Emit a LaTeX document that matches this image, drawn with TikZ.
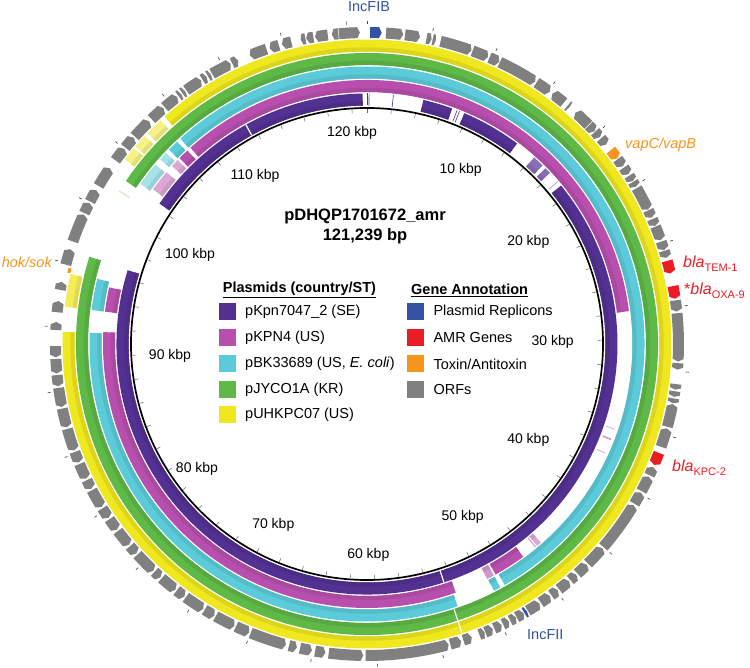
\documentclass[tikz,border=0pt]{standalone}
\usepackage{fontspec}
\setmainfont{Liberation Sans}
\definecolor{cpu}{RGB}{83,49,146}
\definecolor{cma}{RGB}{184,79,174}
\definecolor{ccy}{RGB}{92,203,217}
\definecolor{cgr}{RGB}{94,185,71}
\definecolor{cye}{RGB}{240,232,30}
\definecolor{cgy}{RGB}{128,128,128}
\definecolor{cbl}{RGB}{52,82,164}
\definecolor{cre}{RGB}{236,28,36}
\definecolor{cor}{RGB}{247,148,29}
% annular sector: color, r1, r2, k1, k2 (kbp)
\newcommand{\rseg}[5]{\fill[#1] ({kang(#4)}:#2pt) arc[start angle={kang(#4)}, end angle={kang(#5)}, radius=#2pt] -- ({kang(#5)}:#3pt) arc[start angle={kang(#5)}, end angle={kang(#4)}, radius=#3pt] -- cycle;}
\newcommand{\ringseg}[5]{\rseg{#1}{#2}{#3}{#4}{#5}\pgfmathsetmacro\rsmid{#2+0.35*(#3-#2)}\rseg{#1!92!black}{#2}{\rsmid}{#4}{#5}}
% radial line: color, r1, r2, k, width
\newcommand{\rl}[5]{\draw[#1,line width=#5pt] ({kang(#4)}:#2pt) -- ({kang(#4)}:#3pt);}
% ORF arrow: color, k1, k2 (direction k1->k2)
\newcommand{\orf}[3]{\pgfmathsetmacro\tipk{#3-sign(#3-#2)*min(0.17,abs(#3-#2)*0.35)}\fill[#1] ({kang(#2)}:306pt) arc[start angle={kang(#2)}, end angle={kang(\tipk)}, radius=306pt] -- ({kang(#3)}:311.5pt) -- ({kang(\tipk)}:317pt) arc[start angle={kang(\tipk)}, end angle={kang(#2)}, radius=317pt] -- cycle;}
\begin{document}
\begin{tikzpicture}[x=1pt,y=1pt,
  declare function={kang(\k)=90-2.969342*\k;},
  kbp/.style={font=\fontsize{14}{16}\selectfont, inner sep=0pt},
  legt/.style={font=\fontsize{14.5}{16}\selectfont, inner sep=0pt, anchor=west},
  legh/.style={font=\fontsize{14.5}{16}\selectfont\bfseries, inner sep=0pt, anchor=west},
  legsq/.style={minimum size=17pt, inner sep=0pt},
  glab/.style={font=\fontsize{14.5}{16}\selectfont, inner sep=0pt}]
\useasboundingbox (0,0) rectangle (750,668);
\begin{scope}[shift={(367,324)}]
% ---------- purple ring
\foreach \a/\b in {4.38/6.7, 7.7/12.4, 17.1/96.7, 102.4/120.9} {\ringseg{cpu}{238.5}{250.5}{\a}{\b}}
\ringseg{cpu!70!white}{238.5}{250.5}{14.1}{15.0}
\ringseg{cpu!70!white}{238.5}{250.5}{15.3}{15.8}
\foreach \k in {0.0,0.16,2.04,7.1,7.3} {\rl{cpu}{238.5}{250.5}{\k}{0.6}}
\rl{cpu!45!white}{238.5}{250.5}{16.7}{0.8}
\rl{white}{238.5}{250.5}{54.6}{1.2}
\rl{white}{238.5}{250.5}{111.5}{1.2}
% ---------- magenta ring
\foreach \a/\b in {107.1/149.14, 54.0/91.8, 48.4/50.8, 93.3/95.1, 106.0/106.8} {\ringseg{cma}{252}{264}{\a}{\b}}
\ringseg{cma!60!white}{252}{264}{50.95}{51.5}
\ringseg{cma!50!white}{252}{264}{103.0}{104.6}
\ringseg{cma!50!white}{252}{264}{105.2}{105.8}
\ringseg{cma!50!white}{252}{264}{46.75}{47.1}
\rl{cma!60!white}{252}{264}{47.25}{1.0}
\rl{cma!55!white}{253}{262}{36.7}{0.7}
\rl{cma!60!white}{253}{262}{37.5}{1.6}
\rl{cma!55!white}{253}{262}{38.6}{0.7}
% ---------- cyan ring
\foreach \a/\b in {107.0/171.84, 54.2/91.7, 50.95/51.45, 93.3/95.5, 105.9/106.7} {\ringseg{ccy}{265.5}{277.5}{\a}{\b}}
\ringseg{ccy!55!white}{265.5}{277.5}{102.8}{104.5}
\ringseg{ccy!55!white}{265.5}{277.5}{105.0}{105.6}
% ---------- green ring
\ringseg{cgr}{279}{291}{102.4}{218.039}
\rl{white}{279}{291}{54.5}{1.2}
\rl{cgr!45!white}{279}{291}{101.6}{0.8}
% ---------- yellow ring
\ringseg{cye}{292.5}{304.5}{107.2}{212.939}
\ringseg{cye!75!white}{292.5}{304.5}{93.3}{95.4}
\foreach \a/\b in {103.5/104.4, 104.55/105.45, 105.7/106.85} {\ringseg{cye!55!white}{292.5}{304.5}{\a}{\b}}
\rl{white}{292.5}{304.5}{54.5}{1.2}
% ---------- backbone
\draw[line width=1.7pt] (0,0) circle[radius=236pt];
\foreach \k in {0,2,...,120} {\draw[black!60, line width=0.5pt] ({kang(\k)}:235pt) -- ({kang(\k)}:231pt);}
\foreach \k in {0,4,...,120} {\draw[black!75, line width=0.6pt] ({kang(\k)}:320pt) -- ({kang(\k)}:323pt);}
% ---------- ORFs
\foreach \a/\b in {1.18/2.25, 2.36/3.30, 3.71/4.03, 4.10/4.30, 4.60/6.60, 6.67/7.70, 7.80/8.45, 8.50/11.0, 11.1/12.1, 13.2/12.3, 13.5/13.65, 15.25/14.15, 15.3/15.8, 15.85/16.3, 16.4/16.9, 18.05/18.6, 18.7/19.2, 19.3/19.7, 19.75/20.1, 20.2/21.7, 21.75/22.25, 22.35/22.8, 22.85/23.75, 23.85/24.4, 24.45/24.9, 27.6/28.3, 28.4/31.4, 31.5/31.9, 32.8/33.15, 33.25/33.6, 33.7/34.0, 35.5/34.05, 36.8/35.6, 38.7/38.15, 39.8/38.8, 40.7/39.9, 44.0/40.8, 45.4/44.1, 46.3/45.5, 46.9/46.4, 47.8/47.0, 48.4/47.9, 49.2/48.5, 50.15/49.3, 50.95/50.45, 51.4/51.0, 51.9/51.5, 52.5/52.0, 53.1/52.6, 53.5/53.15, 54.55/54.0, 55.4/54.7, 60.7/55.5, 63.0/60.85, 63.85/63.2, 64.8/64.05, 65.5/65.0, 68.0/65.7, 69.0/68.1, 70.4/69.1, 71.2/70.5, 72.6/71.3, 73.3/72.7, 74.5/73.4, 75.1/74.6, 76.6/75.2, 77.3/76.7, 78.5/77.4, 79.4/78.6, 80.2/79.5, 81.5/80.3, 82.2/81.6, 83.3/82.3, 84.1/83.4, 85.6/84.2, 86.9/85.7, 88.2/87.0, 89.0/88.3, 90.0/89.1, 90.8/90.1, 91.8/92.3, 92.9/93.6, 94.3/94.8, 95.9/96.9, 97.4/99.2, 99.3/100.0, 100.1/100.9, 101.2/102.5, 103.1/104.0, 104.1/104.9, 105.0/106.3, 106.5/107.5, 107.6/108.6, 108.7/108.9, 109.0/109.2, 109.3/110.4, 110.5/110.8, 110.9/111.1, 111.2/112.5, 112.6/113.0, 114.9/113.8, 115.7/115.1, 116.5/115.9, 117.4/117.1, 117.9/117.45, 118.8/118.0, 119.46/119.05, 119.5/120.8} {\orf{cgy}{\a}{\b}}
\orf{cbl}{0.19}{0.91}
\orf{cbl}{50.4}{50.22}
\orf{cor}{17.35}{18.0}
\orf{cre}{25.1}{25.9}
\orf{cre}{26.7}{27.5}
\orf{cre}{37.2}{38.0}
\rseg{cor}{305}{308}{95.45}{95.75}
\end{scope}
% ---------- scale labels
\node[kbp] (k10) at (460.7,498) {10 kbp};
\node[kbp] (k20) at (528.3,425.7) {20 kbp};
\node[kbp] (k30) at (552.7,326.3) {30 kbp};
\node[kbp] (k40) at (528.3,228) {40 kbp};
\node[kbp] (k50) at (462.7,151.3) {50 kbp};
\node[kbp] (k60) at (368.3,113) {60 kbp};
\node[kbp] (k70) at (273.3,143) {70 kbp};
\node[kbp] (k80) at (197,199) {80 kbp};
\node[kbp] (k90) at (170,312.3) {90 kbp};
\node[kbp] (k100) at (190,413) {100 kbp};
\node[kbp] (k110) at (255,492) {110 kbp};
\node[kbp] (k120) at (352,535) {120 kbp};
% ---------- title
\node[font=\fontsize{16.5}{18}\selectfont\bfseries, inner sep=0pt] (t1) at (365,451.3) {pDHQP1701672\_amr};
\node[font=\fontsize{16.5}{18}\selectfont\bfseries, inner sep=0pt] (t2) at (365,431.3) {121,239 bp};
% ---------- legend
\node[legh] (h1) at (222.7,378) {\underline{Plasmids (country/ST)}};
\node[legh] (h2) at (411,378) {\underline{Gene Annotation}};
\node[legsq, fill=cpu] (s1) at (227,356.3) {};
\node[legsq, fill=cma] (s2) at (227,330.3) {};
\node[legsq, fill=ccy] (s3) at (227,304) {};
\node[legsq, fill=cgr] (s4) at (227,278.7) {};
\node[legsq, fill=cye] (s5) at (227,253) {};
\node[legt] (l1) at (245,356.3) {pKpn7047\_2 (SE)};
\node[legt] (l2) at (245,330.3) {pKPN4 (US)};
\node[legt] (l3) at (245,304) {pBK33689 (US, \textit{E. coli})};
\node[legt] (l4) at (245,278.7) {pJYCO1A (KR)};
\node[legt] (l5) at (245,253) {pUHKPC07 (US)};
\node[legsq, fill=cbl] (g1) at (415.8,356.3) {};
\node[legsq, fill=cre] (g2) at (415.8,330.3) {};
\node[legsq, fill=cor] (g3) at (415.8,304) {};
\node[legsq, fill=cgy] (g4) at (415.8,278.7) {};
\node[legt] (m1) at (433.3,356.3) {Plasmid Replicons};
\node[legt] (m2) at (433.3,330.3) {AMR Genes};
\node[legt] (m3) at (433.3,304) {Toxin/Antitoxin};
\node[legt] (m4) at (433.3,278.7) {ORFs};
% ---------- gene labels
\node[glab, text=cbl, anchor=base] (incfib) at (369,656) {IncFIB};
\node[glab, text=cbl, anchor=base west] (incfii) at (527,28) {IncFII};
\node[glab, text=cor, anchor=base west] (vap) at (625,519) {\itshape vapC/vapB};
\node[glab, text=cor, anchor=base east] (hok) at (52,400) {\itshape hok/sok};
\node[inner sep=0pt, text=cre, anchor=base west] (tem) at (683,400) {{\fontsize{16}{18}\selectfont\itshape bla}\raisebox{-3.5pt}{\fontsize{11}{12}\selectfont TEM-1}};
\node[inner sep=0pt, text=cre, anchor=base west] (oxa) at (684,373) {{\fontsize{16}{18}\selectfont *\itshape bla}\raisebox{-3.5pt}{\fontsize{11}{12}\selectfont OXA-9}};
\node[inner sep=0pt, text=cre, anchor=base west] (kpc) at (672,196.3) {{\fontsize{16}{18}\selectfont\itshape bla}\raisebox{-3.5pt}{\fontsize{11}{12}\selectfont KPC-2}};
\end{tikzpicture}
\end{document}
